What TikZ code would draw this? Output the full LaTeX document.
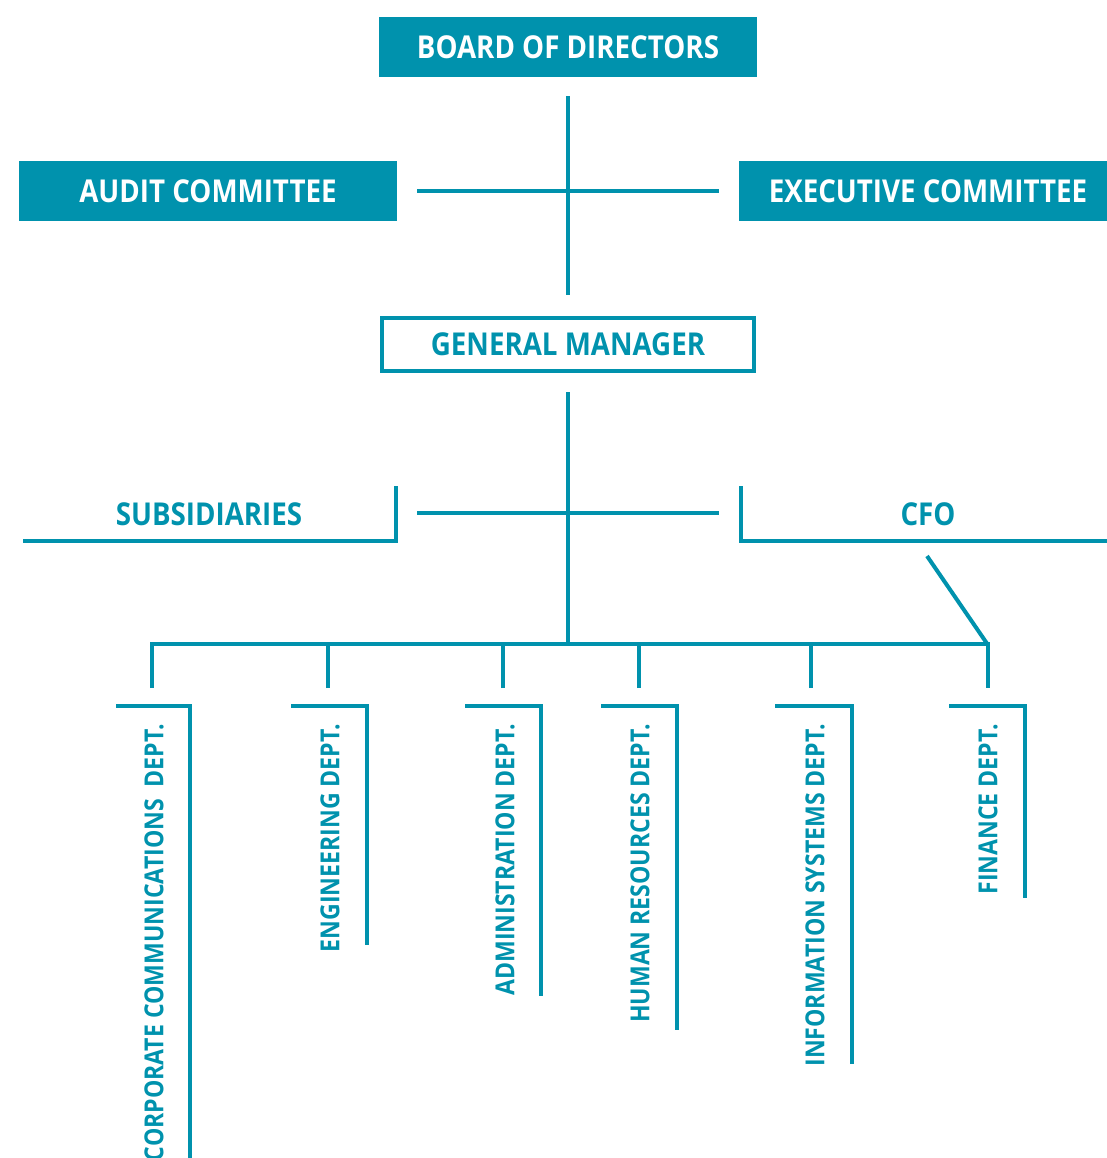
\documentclass[tikz,border=0pt]{standalone}
\usepackage{fontspec}
\setmainfont[FakeStretch=0.88]{Open Sans}
\definecolor{teal}{RGB}{0,146,173}
\begin{document}
\begin{tikzpicture}[x=1pt,y=-1pt,
  line/.style={draw=teal,line width=4pt},
  fillbox/.style={fill=teal,text=white,minimum width=378pt,minimum height=60pt,inner sep=0pt,
     font=\bfseries\fontsize{31.5}{34}\selectfont},
  outbox/.style={draw=teal,line width=4pt,text=teal,minimum width=372pt,minimum height=53pt,inner sep=0pt,
     font=\bfseries\fontsize{31.5}{34}\selectfont},
  head/.style={text=teal,inner sep=0pt,font=\bfseries\fontsize{31.5}{34}\selectfont},
  dept/.style={text=teal,inner sep=0pt,rotate=90,anchor=east,font=\bfseries\fontsize{26.2}{28}\selectfont}]
\useasboundingbox (0,0) rectangle (1106,1158);
% top level
\node[fillbox] (board) at (568,47) {BOARD OF DIRECTORS};
\node[fillbox] (audit) at (208,191) {AUDIT COMMITTEE};
\node[fillbox] (exec) at (928,191) {EXECUTIVE COMMITTEE};
\node[outbox] (gm) at (568,344.5) {GENERAL MANAGER};
\draw[line] ([yshift=-19pt]board.south) -- ([yshift=21pt]gm.north);
\draw[line] ([xshift=20pt]audit.east) -- ([xshift=-20pt]exec.west);
% second level
\node[head] (sub) at (209,514) {SUBSIDIARIES};
\node[head] (cfo) at (928,514) {CFO};
\coordinate (subA) at (23,541);
\coordinate (subB) at (396,486);
\coordinate (cfoA) at (741,486);
\coordinate (cfoB) at (1110,541);
\draw[line,line join=miter] (subA) -| (subB);
\draw[line,line join=miter] (cfoA) |- (cfoB);
\coordinate (hl) at (417,513);
\coordinate (hr) at (719,513);
\draw[line] (hl) -- (hr);
\coordinate (bus) at (568,644);
\draw[line] ([yshift=-19pt]gm.south) -- (bus);
% departments
\coordinate (d1) at (152,688);
\coordinate (d2) at (328,688);
\coordinate (d3) at (503,688);
\coordinate (d4) at (639,688);
\coordinate (d5) at (811,688);
\coordinate (d6) at (988,688);
\draw[line,line join=miter] (d1) |- (bus) -| (d6);
\foreach \d in {d2,d3,d4,d5} \draw[line] (\d) -- (\d |- bus);
\coordinate (cfoD) at (927,556);
\draw[line] (cfoD) -- ([yshift=-1pt]d6 |- bus);
% dept brackets
\foreach \a/\b/\c in {116/190/1170, 291/367/945, 465/541/996, 601/677/1030, 775/852/1064, 949/1025/898}
  \draw[line,line join=miter] (\a,706) -- (\b,706) -- (\b,\c);
\node[dept] (corp) at (154,724) {CORPORATE COMMUNICATIONS\ \ DEPT.};
\node[dept] (eng) at (330,724) {ENGINEERING DEPT.};
\node[dept] (adm) at (505,724) {ADMINISTRATION DEPT.};
\node[dept] (hrd) at (640,724) {HUMAN RESOURCES DEPT.};
\node[dept] (isd) at (815,724) {INFORMATION SYSTEMS DEPT.};
\node[dept] (fin) at (988,724) {FINANCE DEPT.};
\end{tikzpicture}
\end{document}
